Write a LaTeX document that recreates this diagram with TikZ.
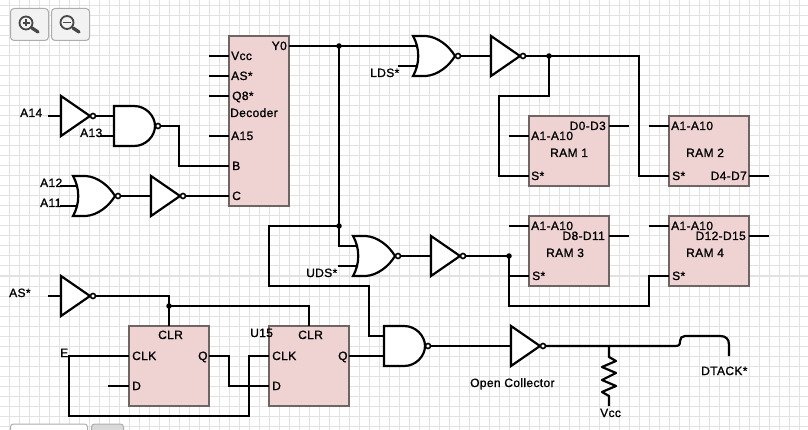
\documentclass[tikz,border=0pt]{standalone}
\usepackage{fontspec}
\newfontfamily\labfont[FakeBold=1.1,LetterSpace=3]{Liberation Sans}
\definecolor{gridc}{HTML}{E2E2E2}
\definecolor{boxfill}{HTML}{EFD3D3}
\definecolor{boxline}{HTML}{6E6464}
\tikzset{
  wire/.style={line width=2.2pt,black},
  gate/.style={line width=2.2pt,draw=black,fill=white,line join=miter},
  bub/.style={line width=1.6pt,draw=black,fill=white},
  dot/.style={circle,fill=black,inner sep=0pt,minimum size=5.5pt},
  chip/.style={draw=boxline,fill=boxfill,line width=1.6pt,inner sep=0pt},
  lab/.style={font=\labfont\fontsize{12}{12}\selectfont,inner sep=0pt,anchor=base west,text=black},
  labr/.style={lab,anchor=base east},
  btn/.style={draw=black!32,fill=black!5,line width=1pt,rounded corners=3.5pt},
  icon/.style={draw=black!72,line width=1.8pt},
  invgate/.pic={
    \draw[gate] (0,0)--(29,20)--(0,40)--cycle;
    \draw[bub] (32,20) circle[radius=2.5];
    \coordinate (-in) at (0,20);
    \coordinate (-out) at (34.5,20);
  },
  nandgate/.pic={
    \draw[gate] (0,0)--(20,0) .. controls (32,0) and (41,10) .. (41,20)
       .. controls (41,30) and (32,40) .. (20,40)--(0,40)--cycle;
    \draw[bub] (44,20) circle[radius=2.5];
    \coordinate (-a) at (0,10);
    \coordinate (-b) at (0,30);
    \coordinate (-out) at (46.5,20);
  },
  norgate/.pic={
    \draw[gate] (0,0)--(13,0) .. controls (25,1) and (36,10) .. (42,20)
       .. controls (36,30) and (25,39) .. (13,40)--(0,40)
       .. controls (7,28) and (7,12) .. (0,0)--cycle;
    \draw[bub] (45,20) circle[radius=2.5];
    \coordinate (-a) at (4.5,10);
    \coordinate (-b) at (4.5,30);
    \coordinate (-out) at (47.5,20);
  },
}
\begin{document}
\begin{tikzpicture}[x=1pt,y=-1pt]
\useasboundingbox (0,0) rectangle (808,430);
\clip (0,0) rectangle (808,430);
\fill[white] (0,0) rectangle (808,430);
\foreach \gx in {9,19,...,809} \draw[gridc,line width=1pt] (\gx,0)--(\gx,430);
\foreach \gy in {6,16,...,430} \draw[gridc,line width=1pt] (0,\gy)--(808,\gy);

% zoom buttons and tabs
\path[btn] (10.5,8.5) rectangle (48.5,40.5);
\path[btn] (51.5,8.5) rectangle (89.5,40.5);
\draw[icon] (26,23) circle[radius=6.5];
\draw[icon,line width=1.3pt] (22.5,23)--(29.5,23) (26,19.5)--(26,26.5);
\draw[icon,line width=3.2pt,line cap=round] (32,28)--(38,32);
\draw[icon] (67,22.5) circle[radius=6.5];
\draw[icon,line width=1.5pt] (63,22.5)--(71,22.5);
\draw[icon,line width=3.2pt,line cap=round] (73,28)--(79,32);
\draw[draw=black!32,fill=white,line width=1pt,rounded corners=3pt] (10.5,424)--(87.5,424)--(87.5,440)--(10.5,440)--cycle;
\draw[draw=black!32,fill=black!15,line width=1pt,rounded corners=3pt] (91.5,424)--(123.5,424)--(123.5,440)--(91.5,440)--cycle;

% chips
\node[chip,minimum width=60,minimum height=170] (dec) at (259,121) {};
\node[chip,minimum width=80,minimum height=70] (ram1) at (569,151) {};
\node[chip,minimum width=80,minimum height=70] (ram2) at (709,151) {};
\node[chip,minimum width=80,minimum height=70] (ram3) at (569,251) {};
\node[chip,minimum width=80,minimum height=70] (ram4) at (709,251) {};
\node[chip,minimum width=80,minimum height=80] (ff1) at (169,366) {};
\node[chip,minimum width=80,minimum height=80] (ff2) at (309,366) {};

% gates
\pic (i1) at (61,96) {invgate};
\pic (n1) at (114,106) {nandgate};
\pic (o1) at (73,176) {norgate};
\pic (i2) at (151,176) {invgate};
\pic (o2) at (413,36) {norgate};
\pic (i3) at (491,36) {invgate};
\pic (o3) at (353,236) {norgate};
\pic (i4) at (431,236) {invgate};
\pic (i5) at (61,276) {invgate};
\pic (n2) at (384,326) {nandgate};
\pic (i6) at (511,326) {invgate};

% pins and bends
\coordinate (a14) at (48,116);
\coordinate (a13) at (100,136);
\coordinate (a12) at (60,186);
\coordinate (a11) at (60,206);
\coordinate (dVcc) at (209,56);  \coordinate (dVccE) at (229,56);
\coordinate (dAS) at (209,76);   \coordinate (dASE) at (229,76);
\coordinate (dQ8) at (209,96);   \coordinate (dQ8E) at (229,96);
\coordinate (dA15) at (209,136); \coordinate (dA15E) at (229,136);
\coordinate (dB) at (229,166);
\coordinate (dC) at (229,196);
\coordinate (dY) at (289,46);
\coordinate (j1) at (339,46);
\coordinate (j2) at (339,226);
\coordinate (j3) at (549,56);
\coordinate (j4) at (509,256);
\coordinate (j5) at (169,306);
\coordinate (b1) at (179,166);
\coordinate (b2) at (339,246);
\coordinate (b3) at (269,226);
\coordinate (b4) at (369,286);
\coordinate (b5) at (499,96);
\coordinate (b6) at (639,56);
\coordinate (b7) at (509,306);
\coordinate (b8) at (649,306);
\coordinate (lds) at (398,66);
\coordinate (uds) at (338,266);
\coordinate (r1s) at (529,176);
\coordinate (r2s) at (669,176);
\coordinate (r3s) at (529,276);
\coordinate (r4s) at (669,276);
\coordinate (r1a) at (509,136); \coordinate (r1aE) at (529,136);
\coordinate (r2a) at (649,126); \coordinate (r2aE) at (669,126);
\coordinate (r3a) at (509,226); \coordinate (r3aE) at (529,226);
\coordinate (r4a) at (649,226); \coordinate (r4aE) at (669,226);
\coordinate (r1d) at (609,126); \coordinate (r1dE) at (629,126);
\coordinate (r2d) at (749,176); \coordinate (r2dE) at (769,176);
\coordinate (r3d) at (609,236); \coordinate (r3dE) at (629,236);
\coordinate (r4d) at (749,236); \coordinate (r4dE) at (769,236);
\coordinate (as) at (48,296);
\coordinate (c1) at (169,326);
\coordinate (c2) at (309,326);
\coordinate (k1) at (129,356);
\coordinate (k2) at (269,356);
\coordinate (e1) at (69,416);
\coordinate (e2) at (249,416);
\coordinate (d1) at (108,386);
\coordinate (d1E) at (129,386);
\coordinate (q1) at (209,356);
\coordinate (b9) at (229,386);
\coordinate (d2) at (269,386);
\coordinate (q2) at (349,356);
\coordinate (rt) at (609,346);
\coordinate (rb) at (609,406);
\coordinate (dt1) at (675,346);
\coordinate (dt3) at (680,341);
\coordinate (dt4) at (685,336);
\coordinate (dt5) at (720,336);
\coordinate (dt6) at (729,345);
\coordinate (dt2) at (729,356);

% connectors
\begin{scope}[wire]
\draw (a14)--(i1-in);
\draw (i1-out)--(n1-a);
\draw (a13)--(n1-b);
\draw (n1-out)-|(b1)--(dB);
\draw (a12)--(o1-a);
\draw (a11)--(o1-b);
\draw (o1-out)--(i2-in);
\draw (i2-out)--(dC);
\draw (dVcc)--(dVccE);
\draw (dAS)--(dASE);
\draw (dQ8)--(dQ8E);
\draw (dA15)--(dA15E);
\draw (dY)--(o2-a);
\draw (j1)--(b2)--(o3-a);
\draw (lds)--(o2-b);
\draw (uds)--(o3-b);
\draw (j2)--(b3)|-(b4)|-(n2-a);
\draw (o2-out)--(i3-in);
\draw (i3-out)--(b6)|-(r2s);
\draw (j3)|-(b5)|-(r1s);
\draw (o3-out)--(i4-in);
\draw (i4-out)--(j4);
\draw (j4)|-(r3s);
\draw (j4)--(b7)--(b8)|-(r4s);
\draw (r1a)--(r1aE);
\draw (r2a)--(r2aE);
\draw (r3a)--(r3aE);
\draw (r4a)--(r4aE);
\draw (r1d)--(r1dE);
\draw (r2d)--(r2dE);
\draw (r3d)--(r3dE);
\draw (r4d)--(r4dE);
\draw (as)--(i5-in);
\draw (i5-out)-|(c1);
\draw (j5)-|(c2);
\draw (k1)-|(e1)--(e2)|-(k2);
\draw (d1)--(d1E);
\draw (q1)-|(b9)--(d2);
\draw (q2)--(n2-b);
\draw (n2-out)--(i6-in);
\draw (i6-out)--(dt1) .. controls (679,346) and (680,345) .. (dt3)
   .. controls (680,338) and (682,336) .. (dt4) -- (dt5)
   .. controls (726,336) and (729,339) .. (dt6) -- (dt2);
\draw[line join=round] (rt)--++(0,11)--++(7,4)--++(-14,6)--++(14,6)--++(-14,7)--++(14,6)--++(-14,6)--++(7,4)--(rb);
\end{scope}
\node[dot] (jd1) at (j1) {};
\node[dot] (jd2) at (j2) {};
\node[dot] (jd3) at (j3) {};
\node[dot] (jd4) at (j4) {};
\node[dot] (jd5) at (j5) {};

% labels
\node[lab] (t01) at (20,117) {A14};
\node[lab] (t02) at (80,137) {A13};
\node[lab] (t03) at (40,187) {A12};
\node[lab] (t04) at (40,207) {A11};
\node[lab] (t05) at (231,60) {Vcc};
\node[lab] (t06) at (231,80) {AS*};
\node[lab] (t07) at (232,100) {Q8*};
\node[lab] (t08) at (230,117) {Decoder};
\node[lab] (t09) at (231,140) {A15};
\node[lab] (t10) at (232,170) {B};
\node[lab] (t11) at (232,200) {C};
\node[labr] (t12) at (287,50) {Y0};
\node[lab] (t13) at (370,77) {LDS*};
\node[lab] (t14) at (306,277) {UDS*};
\node[lab] (t15) at (9,297) {AS*};
\node[lab] (t16) at (60,357) {E};
\node[lab] (t17) at (250,337) {U15};
\node[lab] (t18) at (158,339) {CLR};
\node[lab] (t19) at (132,360) {CLK};
\node[lab] (t20) at (132,390) {D};
\node[lab] (t21) at (198,360) {Q};
\node[lab] (t22) at (298,339) {CLR};
\node[lab] (t23) at (272,360) {CLK};
\node[lab] (t24) at (272,390) {D};
\node[lab] (t25) at (338,360) {Q};
\node[lab] (t26) at (531,140) {A1-A10};
\node[labr] (t27) at (606,130) {D0-D3};
\node[lab] (t28) at (550,157) {RAM 1};
\node[lab] (t29) at (531,180) {S*};
\node[lab] (t30) at (671,130) {A1-A10};
\node[lab] (t31) at (686,157) {RAM 2};
\node[lab] (t32) at (672,180) {S*};
\node[labr] (t33) at (747,180) {D4-D7};
\node[lab] (t34) at (531,230) {A1-A10};
\node[labr] (t35) at (605,240) {D8-D11};
\node[lab] (t36) at (546,257) {RAM 3};
\node[lab] (t37) at (532,280) {S*};
\node[lab] (t38) at (671,230) {A1-A10};
\node[labr] (t39) at (746,240) {D12-D15};
\node[lab] (t40) at (686,257) {RAM 4};
\node[lab] (t41) at (672,280) {S*};
\node[lab] (t42) at (470,387) {Open Collector};
\node[lab] (t43) at (600,417) {Vcc};
\node[lab] (t44) at (701,375) {DTACK*};
\end{tikzpicture}
\end{document}
